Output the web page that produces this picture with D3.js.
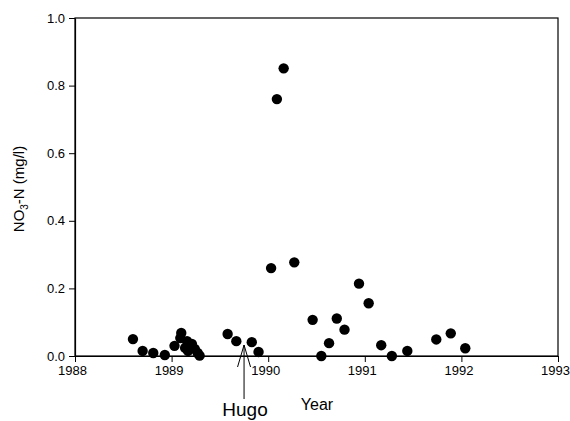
<!DOCTYPE html>
<html>
<head>
<meta charset="utf-8">
<script src="https://cdn.jsdelivr.net/npm/d3@7"></script>
<style>
  html, body { margin: 0; padding: 0; background: #fff; }
  svg { display: block; font-family: "Liberation Sans", Arial, sans-serif; }
</style>
</head>
<body>
<svg id="chart" width="570" height="421"></svg>
<script>
// Sampling dates (decimal year) and NO3-N concentrations (mg/l)
const sampleYears = [
  1988.60, 1988.70, 1988.81, 1988.93, 1989.03, 1989.10, 1989.09, 1989.16,
  1989.21, 1989.14, 1989.17, 1989.24, 1989.27, 1989.29, 1989.58, 1989.67,
  1989.83, 1989.90, 1990.03, 1990.09, 1990.16, 1990.27, 1990.46, 1990.55,
  1990.63, 1990.71, 1990.79, 1990.94, 1991.04, 1991.17, 1991.28, 1991.44,
  1991.74, 1991.89, 1992.04
];
const no3Values = [
  0.050, 0.015, 0.009, 0.003, 0.030, 0.068, 0.053, 0.044,
  0.036, 0.024, 0.015, 0.021, 0.009, 0.001, 0.065, 0.044,
  0.041, 0.012, 0.260, 0.760, 0.851, 0.277, 0.107, 0.000,
  0.038, 0.111, 0.078, 0.214, 0.156, 0.032, 0.000, 0.015,
  0.049, 0.067, 0.023
];
const xTicks = [1988, 1989, 1990, 1991, 1992, 1993];
const yTicks = [0, 0.2, 0.4, 0.6, 0.8, 1.0];
const hugoYear = 1989.75;   // Hurricane Hugo, September 1989

const svg = d3.select("#chart");
const x = d3.scaleLinear().domain([1988, 1993]).range([75, 558]);
const y = d3.scaleLinear().domain([0, 1]).range([356, 18]);

// Plot frame
svg.append("rect")
  .attr("x", x(1988)).attr("y", y(1))
  .attr("width", x(1993) - x(1988)).attr("height", y(0) - y(1))
  .attr("fill", "none").attr("stroke", "#000").attr("stroke-width", 1.2);

// Axes
const xAxis = svg.append("g")
  .attr("transform", `translate(0,${y(0)})`)
  .call(d3.axisBottom(x).tickValues(xTicks).tickFormat(d3.format("d"))
    .tickSizeInner(6).tickSizeOuter(0).tickPadding(4));
const yAxis = svg.append("g")
  .attr("transform", `translate(${x(1988)},0)`)
  .call(d3.axisLeft(y).tickValues(yTicks).tickFormat(d3.format(".1f"))
    .tickSizeInner(6).tickSizeOuter(0).tickPadding(4));

[xAxis, yAxis].forEach(g => {
  g.select(".domain").attr("stroke", "#000").attr("stroke-width", 1.2);
  g.selectAll(".tick line").attr("stroke", "#000").attr("stroke-width", 1);
  g.selectAll(".tick text").attr("fill", "#000").attr("font-size", 13)
    .attr("font-family", "'Liberation Sans', Arial, sans-serif");
});
xAxis.selectAll(".tick text").attr("dx", -3);

// Data points
svg.append("g").selectAll("circle")
  .data(sampleYears.map((t, i) => ({ t, v: no3Values[i] })))
  .join("circle")
  .attr("cx", d => x(d.t))
  .attr("cy", d => y(d.v))
  .attr("r", 5.2)
  .attr("fill", "#000");

// Axis titles
svg.append("text")
  .attr("x", 317).attr("y", 410)
  .attr("text-anchor", "middle")
  .attr("font-size", 16)
  .text("Year");

const yTitle = svg.append("text")
  .attr("transform", `translate(24,${(y(0) + y(1)) / 2 + 2}) rotate(-90)`)
  .attr("text-anchor", "middle")
  .attr("font-size", 15);
yTitle.append("tspan").text("NO");
yTitle.append("tspan").attr("font-size", 10).attr("dy", 4).text("3");
yTitle.append("tspan").attr("dy", -4).text("-N (mg/l)");

// Hugo annotation arrow
const hx = x(hugoYear);
const tipY = 345;
const ann = svg.append("g").attr("stroke", "#000").attr("stroke-width", 1).attr("fill", "none");
ann.append("line").attr("x1", hx).attr("y1", tipY).attr("x2", hx).attr("y2", 399);
ann.append("line").attr("x1", hx).attr("y1", tipY).attr("x2", hx - 6.5).attr("y2", 367);
ann.append("line").attr("x1", hx).attr("y1", tipY).attr("x2", hx + 6.5).attr("y2", 367);

svg.append("text")
  .attr("x", hx + 1).attr("y", 416)
  .attr("text-anchor", "middle")
  .attr("font-size", 19)
  .text("Hugo");
</script>
</body>
</html>
